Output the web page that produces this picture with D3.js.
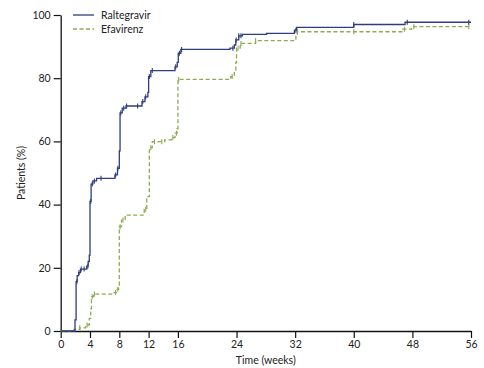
<!DOCTYPE html>
<html>
<head>
<meta charset="utf-8">
<script src="https://cdn.jsdelivr.net/npm/d3@7"></script>
<style>
  html, body { margin: 0; padding: 0; background: #fff; }
  svg { display: block; }
  text { font-family: Lato, "Liberation Sans", sans-serif; fill: #222; }
</style>
</head>
<body>
<svg id="chart" width="484" height="368"></svg>
<script>
// ---- Data (week, cumulative % of patients) ----
const seriesNames = ["Raltegravir", "Efavirenz"];

const raltegravirSteps = [
  [0,0],[1.95,3.5],[2.1,15.6],[2.25,17.5],[2.45,18.5],[2.7,19.6],[3.55,20.5],[3.75,22],
  [3.9,24],[4.0,41],[4.15,46.5],[4.4,47.5],[4.9,48.3],[7.4,49.4],[7.75,51.5],[8.0,57],
  [8.1,69],[8.4,70.5],[8.9,71.2],[11.1,72.6],[11.5,74.1],[11.9,75.5],[12.0,80.5],[12.3,82.4],
  [15.6,83.6],[15.9,85],[16.05,87.9],[16.4,89.1],[23.1,89.5],[23.7,90.5],[23.9,92.1],
  [24.3,93.4],[24.8,93.9],[28.1,94.2],[31.9,95.2],[32.2,96.1],[40.0,97.0],[47.0,97.7],[56,97.7]
];

const efavirenzSteps = [
  [0,0],[1.8,0.5],[2.6,1.0],[3.4,1.9],[3.9,4],[4.1,7],[4.2,10.9],[4.5,11.7],[7.3,12.2],
  [7.6,13.2],[7.9,14.5],[8.0,33],[8.3,35.1],[8.8,36.7],[11.4,38.5],[11.75,42.5],[12.1,58],
  [12.5,59.9],[14.2,60.5],[15.1,61.2],[15.6,62.6],[15.9,64],[16.0,79.6],[23.2,80.5],
  [23.7,82.5],[23.9,85],[24.0,89.5],[24.5,91],[26.6,91.9],[32.1,93.5],[32.3,94.7],
  [46.7,95.5],[47.9,96.3],[56,96.3]
];

// censoring marks (weeks)
const raltegravirCensor = [2.2,2.5,2.8,3.2,3.7,4.1,4.3,4.6,5.5,7.5,7.8,8.2,8.6,9.0,10.5,11.2,11.6,
  12.1,12.5,15.7,16.2,16.5,23.5,23.95,24.3,24.6,32.1,40,47.3,55.7];
const efavirenzCensor = [2.6,3.6,4.3,4.6,7.5,7.8,8.1,8.5,11.6,12.3,12.8,13.8,15.3,15.8,16.1,
  23.4,24.2,24.6,26.6,32.3,40,46.9,48.2,55.7];

const xTicks = [0,4,8,12,16,24,32,40,48,56];
const yTicks = [0,20,40,60,80,100];

// ---- Layout ----
const svg = d3.select("#chart");
const x = d3.scaleLinear().domain([0,56]).range([60.7, 471]);
const y = d3.scaleLinear().domain([0,100]).range([331, 15]);

const colors = { Raltegravir: "#2e3d7c", Efavirenz: "#8eaa52" };

// axes
const xAxis = d3.axisBottom(x).tickValues(xTicks).tickSize(7).tickPadding(3).tickSizeOuter(0);
const yAxis = d3.axisLeft(y).tickValues(yTicks).tickSize(7).tickPadding(3).tickSizeOuter(0);

const gx = svg.append("g").attr("transform", "translate(0,331)").call(xAxis);
const gy = svg.append("g").attr("transform", "translate(60.7,0)").call(yAxis);
[gx, gy].forEach(g => {
  g.selectAll("path.domain").attr("stroke", "#111").attr("stroke-width", 1.3);
  g.selectAll(".tick line").attr("stroke", "#111").attr("stroke-width", 1.2);
  g.selectAll(".tick text").style("font-family", "Lato, 'Liberation Sans', sans-serif")
    .style("font-size", "10.5px").attr("fill", "#222");
});

// axis titles
svg.append("text").attr("x", 265.8).attr("y", 364).attr("text-anchor", "middle")
  .style("font-size", "10.5px").text("Time (weeks)");
svg.append("text").attr("transform", "translate(25,173) rotate(-90)").attr("text-anchor", "middle")
  .style("font-size", "10.5px").text("Patients (%)");

// step function helper
function valueAt(steps, w) {
  let v = steps[0][1];
  for (const s of steps) { if (s[0] <= w) v = s[1]; else break; }
  return v;
}

const line = d3.line().x(d => x(d[0])).y(d => y(d[1])).curve(d3.curveStepAfter);

const series = [
  { name: "Raltegravir", steps: raltegravirSteps, censor: raltegravirCensor, dash: null },
  { name: "Efavirenz", steps: efavirenzSteps, censor: efavirenzCensor, dash: "4,2.5" }
];

// draw Efavirenz first, Raltegravir on top
series.slice().reverse().forEach(s => {
  svg.append("path").datum(s.steps)
    .attr("d", line).attr("fill", "none")
    .attr("stroke", colors[s.name]).attr("stroke-width", 1.3)
    .attr("stroke-dasharray", s.dash);
  svg.append("g").selectAll("line").data(s.censor).join("line")
    .attr("x1", d => x(d)).attr("x2", d => x(d))
    .attr("y1", d => y(valueAt(s.steps, d)) - 2.5)
    .attr("y2", d => y(valueAt(s.steps, d)) + 2.5)
    .attr("stroke", colors[s.name]).attr("stroke-width", 1.1);
});

// legend
const legend = svg.append("g");
series.forEach((s, i) => {
  const ly = 15 + i * 14;
  legend.append("line").attr("x1", 73).attr("x2", 94).attr("y1", ly).attr("y2", ly)
    .attr("stroke", colors[s.name]).attr("stroke-width", 1.3)
    .attr("stroke-dasharray", s.dash);
  legend.append("text").attr("x", 101).attr("y", ly + 4)
    .style("font-size", "10.5px").text(s.name);
});
</script>
</body>
</html>
